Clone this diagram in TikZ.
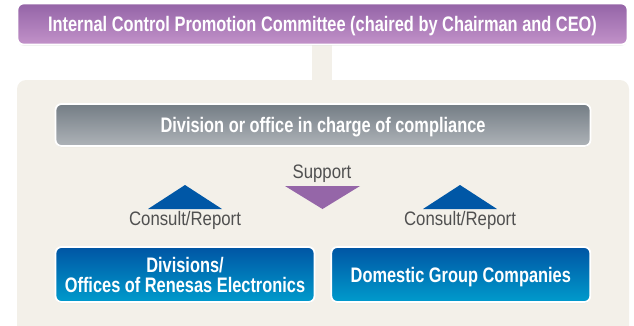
\documentclass[tikz,border=0pt]{standalone}
\usepackage{fontspec}
\setmainfont{Liberation Sans}
\newfontfamily\condfont[FakeStretch=0.78]{Liberation Sans}
\newfontfamily\narrowfont[FakeStretch=0.86]{Liberation Sans}
\usetikzlibrary{positioning,shadows}
\definecolor{panel}{HTML}{F3F0E9}
\definecolor{plumtop}{HTML}{9464A7}
\definecolor{plumbot}{HTML}{C292C9}
\definecolor{slatetop}{HTML}{747D85}
\definecolor{slatebot}{HTML}{AEB3B8}
\definecolor{bluetop}{HTML}{0055A4}
\definecolor{bluebot}{HTML}{009BCC}
\definecolor{tripblue}{HTML}{0057A6}
\definecolor{tripplum}{HTML}{9566A8}
\definecolor{labelgray}{HTML}{505050}
\tikzset{
  unit/.style={draw=white,line width=1.8pt,rounded corners=6pt,align=center,
    text=white,inner sep=2pt,text depth=0pt,
    drop shadow={shadow xshift=0pt,shadow yshift=-1pt,opacity=0.25}},
  committee/.style={unit,top color=plumtop,middle color=plumtop,bottom color=plumbot,
    minimum width=610pt,minimum height=41pt,
    font=\condfont\bfseries\fontsize{21}{23}\selectfont},
  compliance/.style={unit,top color=slatetop,middle color=slatetop!90!slatebot,bottom color=slatebot,
    minimum width=535pt,minimum height=42pt,
    font=\condfont\bfseries\fontsize{21}{23}\selectfont},
  member/.style={unit,top color=bluetop,bottom color=bluebot,
    minimum width=259pt,minimum height=55pt,
    font=\condfont\bfseries\fontsize{21}{20}\selectfont},
  flowlabel/.style={text=labelgray,inner sep=0pt,
    font=\narrowfont\fontsize{19.5}{21}\selectfont},
  uptri/.style={fill=tripblue},
  downtri/.style={fill=tripplum}
}
\begin{document}
\begin{tikzpicture}[x=1pt,y=1pt]
  \useasboundingbox (0,0) rectangle (634,-325);
  % background panel and link
  \fill[panel] (312,-44) rectangle (332,-82);
  \fill[panel,rounded corners=9pt] (17,-80) rectangle (629,-340);
  % boxes
  \node[committee] (icpc) at (322.5,-24) {Internal Control Promotion Committee (chaired by Chairman and CEO)};
  \node[compliance] (comp) at (323,-125) {Division or office in charge of compliance};
  \node[member] (divs) at (185,-274.5) {Divisions/\\Offices of Renesas Electronics};
  \node[member,right=15pt of divs] (group) {Domestic Group Companies};
  % labels
  \node[flowlabel] (support) at (322,-174) {Support};
  \node[flowlabel] (crleft) at (185,-220) {Consult/Report};
  \node[flowlabel] (crright) at (460,-220) {Consult/Report};
  % triangles
  \fill[uptri] (148,-209) -- (185,-185) -- (222,-209) -- cycle;
  \fill[uptri] (423,-209) -- (460,-185) -- (497,-209) -- cycle;
  \fill[downtri] (285,-186) -- (360,-186) -- (322.5,-209) -- cycle;
\end{tikzpicture}
\end{document}
